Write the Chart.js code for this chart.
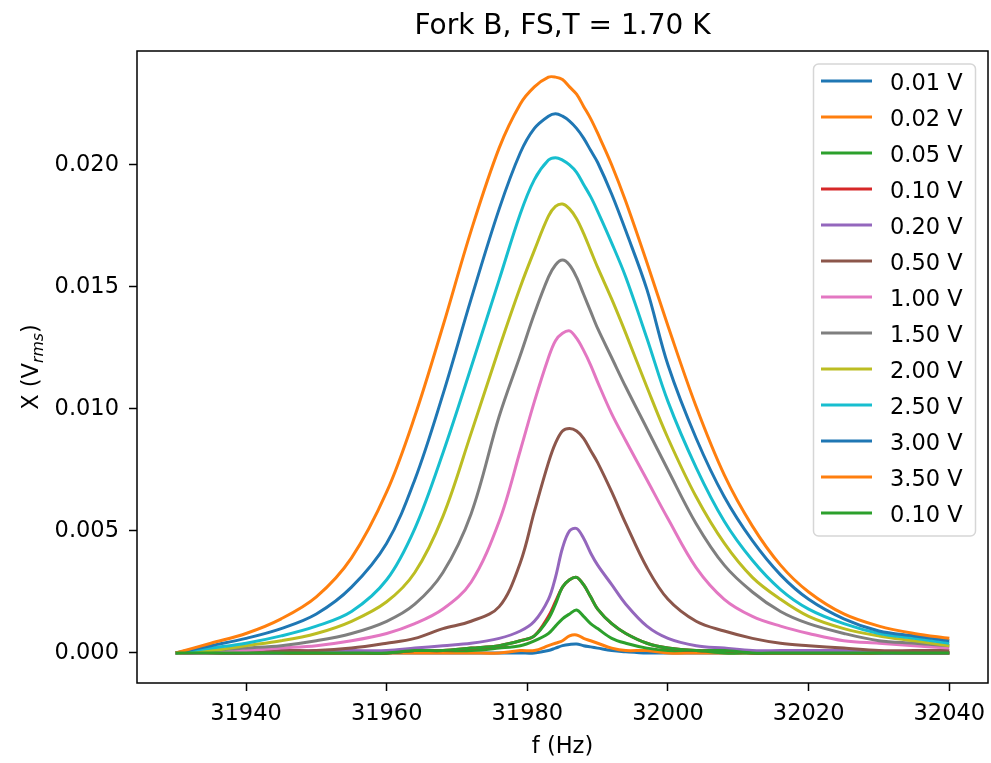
<!DOCTYPE html>
<html><head><meta charset="utf-8">
<script src="https://cdn.jsdelivr.net/npm/chart.js@4.4.0/dist/chart.umd.min.js"></script>
<style>html,body{margin:0;padding:0;background:#fff;}#wrap{width:991px;height:763px;}</style>
</head><body><div id="wrap"><canvas id="c" width="991" height="763"></canvas></div>
<script>
// ---- data ----
const freqHz = [31930,31935,31940,31945,31950,31955,31960,31964,31968,31972,31976,31979,31981,31983,31984,31985,31986,31987,31988,31989,31990,31992,31994,31997,32000,32004,32008,32012,32016,32020,32025,32030,32035,32040];

const x001V = [0,0,0,0,0,0,0,0,0,0,0,0,0,0.0001,0.0002,0.0003,0.00035,0.00037,0.0003,0.00025,0.0002,0.0001,0.00005,0,0,0,0,0,0,0,0,0,0,0];
const x002V = [0,0,0,0,0,0,0,0,0,0,0,0.0001,0.0001,0.0003,0.0004,0.0005,0.0007,0.00074,0.0006,0.0005,0.0004,0.0002,0.0001,0.0001,0,0,0,0,0,0,0,0,0,0];
const x005V = [0,0,0,0,0,0,0,0.0001,0.0001,0.0001,0.0002,0.0003,0.0005,0.0008,0.0011,0.0014,0.0016,0.00176,0.0015,0.0012,0.001,0.0006,0.0004,0.0002,0.0001,0.0001,0,0,0,0,0,0,0,0];
const x010Va = [0,0,0,0,0,0,0,0.0001,0.0001,0.0002,0.0003,0.0005,0.0007,0.0015,0.0021,0.0027,0.003,0.0031,0.0028,0.0023,0.0018,0.0012,0.0008,0.0004,0.0002,0.0001,0.0001,0,0,0,0,0,0,0];
const x020V = [0,0,0,0,0.0001,0.0001,0.0001,0.0002,0.0003,0.0004,0.0006,0.0009,0.0013,0.0022,0.0031,0.0043,0.005,0.0051,0.0047,0.0041,0.0036,0.0028,0.002,0.0011,0.0006,0.0003,0.0002,0.0001,0.0001,0.0001,0.0001,0,0,0];
const x050V = [0,0,0,0.0001,0.0001,0.0002,0.0004,0.0006,0.001,0.0013,0.0019,0.0037,0.0058,0.0078,0.0086,0.0091,0.0092,0.0091,0.0088,0.0083,0.0078,0.0066,0.0053,0.0035,0.0022,0.0013,0.0009,0.0006,0.0004,0.0003,0.0002,0.0001,0.0001,0.0001];
const x100V = [0,0,0.0001,0.0002,0.0003,0.0005,0.0008,0.0012,0.0018,0.0029,0.0054,0.0083,0.0103,0.0121,0.0128,0.0131,0.0132,0.0129,0.0124,0.0118,0.0111,0.0098,0.0087,0.0071,0.0055,0.0035,0.0022,0.0015,0.0011,0.0008,0.0005,0.0004,0.0003,0.0002];
const x150V = [0,0.0001,0.0002,0.0003,0.0005,0.0008,0.0013,0.002,0.0033,0.0057,0.0097,0.0122,0.0139,0.0154,0.0159,0.0161,0.0159,0.0154,0.0147,0.014,0.0133,0.0121,0.0109,0.0092,0.0075,0.0053,0.0036,0.0025,0.0017,0.0012,0.0008,0.0005,0.0004,0.0003];
const x200V = [0,0.0001,0.0003,0.0005,0.0008,0.0013,0.0021,0.0033,0.0056,0.009,0.0125,0.015,0.0165,0.0179,0.0183,0.0184,0.0182,0.0178,0.0172,0.0165,0.0158,0.0145,0.0131,0.0109,0.0088,0.0064,0.0045,0.0031,0.0022,0.0015,0.001,0.0007,0.0005,0.0003];
const x250V = [0,0.0002,0.0004,0.0007,0.0011,0.0017,0.003,0.0051,0.0082,0.0117,0.0153,0.018,0.0194,0.0202,0.0203,0.0202,0.02,0.0197,0.0192,0.0187,0.0181,0.0168,0.0154,0.0129,0.0103,0.0076,0.0054,0.0038,0.0026,0.0018,0.0012,0.0008,0.0006,0.0004];
const x300V = [0,0.0003,0.0006,0.001,0.0016,0.0027,0.0045,0.0071,0.0106,0.0145,0.0182,0.0205,0.0215,0.022,0.0221,0.022,0.0218,0.0215,0.0211,0.0206,0.0201,0.0188,0.0173,0.0149,0.0118,0.0088,0.0064,0.0046,0.0032,0.0022,0.0014,0.0009,0.0007,0.0005];
const x350V = [0,0.0004,0.0008,0.0014,0.0023,0.0039,0.0066,0.0097,0.0134,0.0173,0.0207,0.0225,0.0232,0.0236,0.0236,0.0235,0.0232,0.0229,0.0224,0.0219,0.0213,0.02,0.0185,0.016,0.0134,0.0101,0.0073,0.0052,0.0036,0.0025,0.0016,0.0011,0.0008,0.0006];
const x010Vb = [0,0,0,0,0,0,0,0.0001,0.0001,0.0002,0.0003,0.0005,0.0007,0.0014,0.002,0.0027,0.003,0.0031,0.0028,0.0023,0.0018,0.0012,0.0008,0.0004,0.0002,0.0001,0.0001,0,0,0,0,0,0,0];

const seriesLabels = ['0.01 V','0.02 V','0.05 V','0.10 V','0.20 V','0.50 V','1.00 V','1.50 V','2.00 V','2.50 V','3.00 V','3.50 V','0.10 V'];
const seriesValues = [x001V,x002V,x005V,x010Va,x020V,x050V,x100V,x150V,x200V,x250V,x300V,x350V,x010Vb];
const seriesColors = ['#1f77b4','#ff7f0e','#2ca02c','#d62728','#9467bd','#8c564b','#e377c2','#7f7f7f','#bcbd22','#17becf','#1f77b4','#ff7f0e','#2ca02c'];

const xTickValues = [31940,31960,31980,32000,32020,32040];
const yTickValues = [0,0.005,0.010,0.015,0.020];
const chartTitle = 'Fork B, FS,T = 1.70 K';
const xAxisTitle = 'f (Hz)';

// ---- chart ----
const FONT = "'DejaVu Sans', 'Liberation Sans', sans-serif";
const datasets = seriesValues.map((vals, i) => ({
  label: seriesLabels[i],
  data: freqHz.map((f, j) => ({x: f, y: vals[j]})),
  borderColor: seriesColors[i],
  backgroundColor: seriesColors[i],
  borderWidth: 3,
  pointRadius: 0,
  tension: 0.35,
  fill: false,
  order: -i
}));

const decorPlugin = {
  id: 'decor',
  afterDatasetsDraw(chart) {
    const {ctx, chartArea: a} = chart;
    ctx.save();
    ctx.strokeStyle = '#000';
    ctx.lineWidth = 1.5;
    ctx.strokeRect(a.left, a.top, a.right - a.left, a.bottom - a.top);
    const lx = 813.5, ly = 64, lw = 162, lh = 472, r = 5;
    ctx.beginPath();
    ctx.moveTo(lx + r, ly);
    ctx.arcTo(lx + lw, ly, lx + lw, ly + lh, r);
    ctx.arcTo(lx + lw, ly + lh, lx, ly + lh, r);
    ctx.arcTo(lx, ly + lh, lx, ly, r);
    ctx.arcTo(lx, ly, lx + lw, ly, r);
    ctx.closePath();
    ctx.fillStyle = 'rgba(255,255,255,0.8)';
    ctx.fill();
    ctx.strokeStyle = '#d6d6d6';
    ctx.lineWidth = 1.5;
    ctx.stroke();
    ctx.font = '22.5px ' + FONT;
    ctx.textBaseline = 'alphabetic';
    ctx.textAlign = 'left';
    chart.data.datasets.forEach((ds, i) => {
      const yy = 81 + 36 * i;
      ctx.strokeStyle = ds.borderColor;
      ctx.lineWidth = 3;
      ctx.beginPath();
      ctx.moveTo(821, yy);
      ctx.lineTo(872, yy);
      ctx.stroke();
      ctx.fillStyle = '#000';
      ctx.fillText(ds.label, 890, yy + 8.5);
    });
    ctx.restore();
  },
  afterDraw(chart) {
    const {ctx, chartArea: a} = chart;
    const cx = (a.left + a.right) / 2;
    const cy = (a.top + a.bottom) / 2;
    ctx.save();
    ctx.fillStyle = '#000';
    ctx.textBaseline = 'alphabetic';
    ctx.textAlign = 'center';
    ctx.font = '28px ' + FONT;
    ctx.fillText(chartTitle, cx, 33.5);
    ctx.font = '22.5px ' + FONT;
    ctx.fillText(xAxisTitle, cx, 753);
    const p1 = 'X (V', sub = 'rms', p3 = ')';
    const mainFont = '22.5px ' + FONT, subFont = 'italic 15.75px ' + FONT;
    ctx.font = mainFont; const w1 = ctx.measureText(p1).width, w3 = ctx.measureText(p3).width;
    ctx.font = subFont; const w2 = ctx.measureText(sub).width;
    const total = w1 + w2 + w3;
    ctx.translate(38, cy);
    ctx.rotate(-Math.PI / 2);
    ctx.textAlign = 'left';
    let x0 = -total / 2;
    ctx.font = mainFont; ctx.fillText(p1, x0, 0);
    ctx.font = subFont; ctx.fillText(sub, x0 + w1, 4.5);
    ctx.font = mainFont; ctx.fillText(p3, x0 + w1 + w2, 0);
    ctx.restore();
  }
};

new Chart(document.getElementById('c'), {
  type: 'line',
  data: {datasets},
  plugins: [decorPlugin],
  options: {
    responsive: false,
    animation: false,
    devicePixelRatio: 1,
    layout: {autoPadding: false, padding: {top: 51, right: 3, left: 0, bottom: 0}},
    plugins: {legend: {display: false}, title: {display: false}, tooltip: {enabled: false}},
    scales: {
      x: {
        type: 'linear', min: 31924.5, max: 32045.5,
        afterBuildTicks: s => { s.ticks = xTickValues.map(v => ({value: v})); },
        afterFit: s => { s.height = 80; s.paddingLeft = 0; s.paddingRight = 0; },
        ticks: {font: {family: FONT, size: 22.5}, color: '#000', padding: 10, maxRotation: 0, autoSkip: false, callback: v => String(v)},
        grid: {display: true, drawOnChartArea: false, drawTicks: true, tickLength: 8, tickWidth: 1.5, tickColor: '#000'},
        border: {display: false}
      },
      y: {
        type: 'linear', min: -0.00123, max: 0.02467,
        afterBuildTicks: s => { s.ticks = yTickValues.map(v => ({value: v})); },
        afterFit: s => { s.width = 137; s.paddingTop = 0; s.paddingBottom = 0; },
        ticks: {font: {family: FONT, size: 22.5}, color: '#000', padding: 10, autoSkip: false, callback: v => Number(v).toFixed(3)},
        grid: {display: true, drawOnChartArea: false, drawTicks: true, tickLength: 8, tickWidth: 1.5, tickColor: '#000'},
        border: {display: false}
      }
    }
  }
});
</script></body></html>
